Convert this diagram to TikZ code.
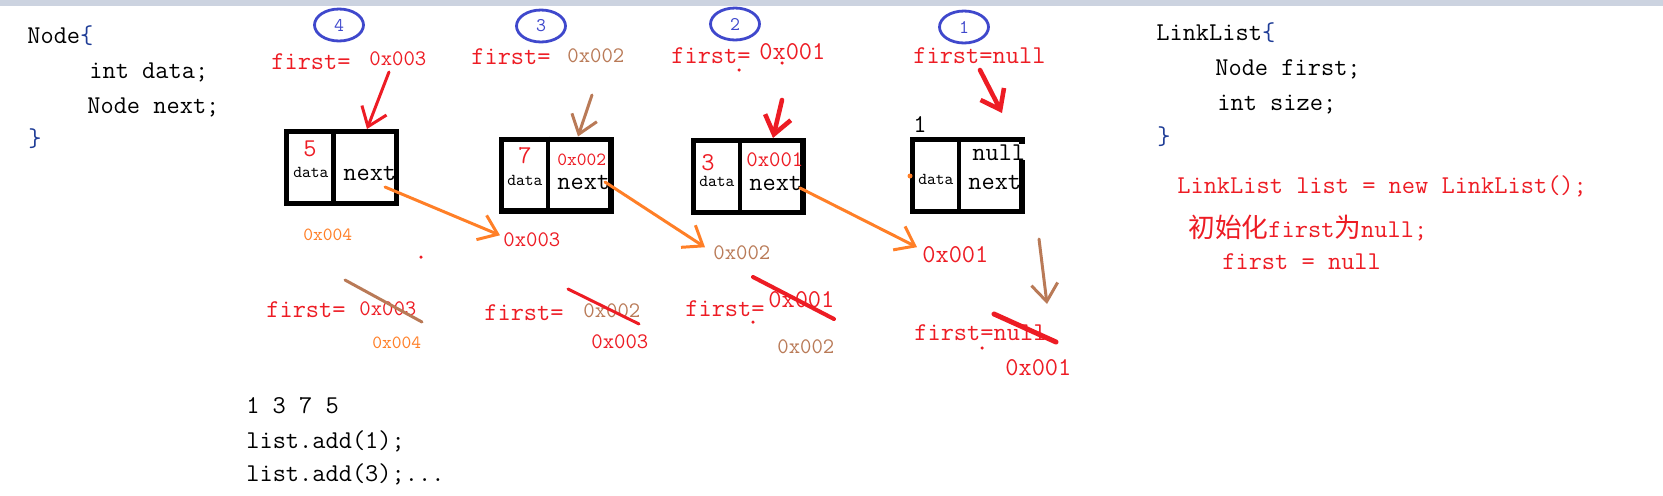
\documentclass[tikz,border=0pt]{standalone}
\usepackage{fontspec}
\usetikzlibrary{arrows.meta,shapes.geometric}
\newfontfamily\cjkfont{Noto Sans CJK SC}
% paint colours
\definecolor{pred}{RGB}{237,28,36}
\definecolor{porange}{RGB}{255,127,39}
\definecolor{pbrown}{RGB}{185,122,87}
\definecolor{pblue}{RGB}{63,72,204}
\definecolor{pbrace}{RGB}{30,60,150}
\definecolor{topbar}{RGB}{204,211,224}
% text sizes
\newcommand\nsz{\fontsize{14.6}{17}\selectfont\ttfamily}
\newcommand\msz{\fontsize{12.6}{15}\selectfont\ttfamily}
\newcommand\ssz{\fontsize{10.6}{13}\selectfont\ttfamily}
\newcommand\dsz{\fontsize{9.5}{11}\selectfont\ttfamily}
\newcommand\zh[1]{{\cjkfont\fontsize{15.2}{17}\selectfont #1}}
\tikzset{
  txt/.style={anchor=base west, inner sep=0pt, font=\nsz},
  listbox/.style={draw, line width=2.85pt, minimum width=2.2cm, minimum height=1.44cm, inner sep=0pt},
  divider/.style={line width=2.6pt},
  ordmark/.style={ellipse, draw=pblue, line width=1.6pt, minimum width=0.98cm, minimum height=0.64cm,
    inner sep=0pt, text=pblue, font=\fontsize{11}{11}\selectfont\ttfamily},
  paint/.style={line width=1.7pt, line cap=round, -{Straight Barb[length=10pt,width=15pt]}},
  strike/.style={line width=1.7pt, line cap=round}
}

\begin{document}
\begin{tikzpicture}[x=0.02cm, y=-0.02cm]
  \useasboundingbox (0,0) rectangle (1663,495);
  \fill[topbar] (0,0) rectangle (1663,6);

  % class Node
  \node[txt] (nd1) at (27,43) {Node\textcolor{pbrace}{\{}};
  \node[txt] (nd2) at (89,78) {int data;};
  \node[txt] (nd3) at (87,113) {Node next;};
  \node[txt] (nd4) at (28,146) {\textcolor{pbrace}{\}}};

  % class LinkList
  \node[txt] (ll1) at (1156,40) {LinkList\textcolor{pbrace}{\{}};
  \node[txt] (ll2) at (1215,75) {Node first;};
  \node[txt] (ll3) at (1217,110) {int size;};
  \node[txt] (ll4) at (1157,144) {\textcolor{pbrace}{\}}};
  \node[txt, pred] (ll5) at (1177,193) {LinkList list = new LinkList();};
  \node[txt, pred] (ll6) at (1188,237) {\zh{初始化}first\zh{为}null;};
  \node[txt, pred] (ll7) at (1222,269) {first = null};

  \node[txt] (seq) at (246,413) {1 3 7 5};
  \node[txt] (add1) at (246,448) {list.add(1);};
  \node[txt] (add3) at (246,481) {list.add(3);...};

  % order of the adds
  \node[ordmark] (o4) at (339,25) {4};
  \node[ordmark] (o3) at (541,26) {3};
  \node[ordmark] (o2) at (735,24) {2};
  \node[ordmark] (o1) at (964,27) {1};

  \node[txt, pred] (f4) at (271,69) {first=};
  \node[txt, pred, font=\msz] (v4) at (369,65) {0x003};
  \node[txt, pred] (f3) at (471,64) {first=};
  \node[txt, pbrown, font=\msz] (v3) at (567,62) {0x002};
  \node[txt, pred] (f2) at (671,63) {first=};
  \node[txt, pred] (v2) at (759,59) {0x001};
  \node[txt, pred] (f1) at (913,63) {first=null};

  % list nodes
  \foreach \name/\x/\y in {b5/341.5/167.5, b7/556/175, b3/748/176.5, b1/967/175.5}{
    \node[listbox] (\name) at (\x,\y) {};
    \draw[divider] ([xshift=0.99cm]\name.north west) -- ([xshift=0.99cm]\name.south west);
  }
  \node[txt, pred] (d5) at (303,156) {5};
  \node[txt, font=\dsz] (l5) at (293,177) {data};
  \node[txt] (n5) at (343,180) {next};
  \node[txt, pred] (d7) at (518,163) {7};
  \node[txt, font=\dsz] (l7) at (507,185) {data};
  \node[txt, pred, font=\ssz] (p7) at (557,165) {0x002};
  \node[txt] (n7) at (557,189) {next};
  \node[txt, pred] (d3) at (701,170) {3};
  \node[txt, font=\dsz] (l3) at (699,186) {data};
  \node[txt, pred, font=\msz] (p3) at (746,166) {0x001};
  \node[txt] (n3) at (749,190) {next};
  \node[txt] (d1) at (913,132) {1};
  \node[txt, font=\dsz] (l1) at (918,184) {data};
  \node[txt, fill=white] (p1) at (972,160) {null};
  \node[txt] (n1) at (968,189) {next};
  \fill[porange] (910,176) circle (0.05cm);

  % addresses
  \node[txt, porange, font=\ssz] (h4) at (303,240) {0x004};
  \node[txt, pred, font=\msz] (h3) at (503,246) {0x003};
  \node[txt, pbrown, font=\msz] (h2) at (713,259) {0x002};
  \node[txt, pred] (h1) at (922,262) {0x001};

  \node[txt, pred] (g4) at (266,317) {first=};
  \node[txt, pred, font=\msz] (w4) at (359,315) {0x003};
  \node[txt, porange, font=\ssz] (u4) at (372,348) {0x004};
  \node[txt, pred] (g3) at (484,320) {first=};
  \node[txt, pbrown, font=\msz] (w3) at (583,317) {0x002};
  \node[txt, pred, font=\msz] (u3) at (591,348) {0x003};
  \node[txt, pred] (g2) at (685,316) {first=};
  \node[txt, pred] (w2) at (768,307) {0x001};
  \node[txt, pbrown, font=\msz] (u2) at (777,353) {0x002};
  \node[txt, pred] (g1) at (914,340) {first=null};
  \node[txt, pred] (u1) at (1005,375) {0x001};

  % arrows
  \coordinate (s4) at (389,72);
  \coordinate (s3) at (592,95);
  \coordinate (s2) at (782,100);
  \coordinate (s1) at (980,70);
  \coordinate (e1) at (1002,113);
  \coordinate (q5) at (385,187);
  \coordinate (q7) at (605,182);
  \coordinate (q3) at (800,188);
  \coordinate (k1) at (1039,239);
  \coordinate (k2) at (1047,304);
  \draw[paint, pred] (s4) -- ([xshift=0.51cm]b5.north);
  \draw[paint, pbrown] (s3) -- ([xshift=0.44cm]b7.north);
  \draw[paint, pred, line width=2.6pt] (s2) -- ([xshift=0.5cm]b3.north);
  \draw[paint, pred, line width=2.6pt] (s1) -- (e1);
  \draw[paint, porange] (q5) -- ([xshift=-0.06cm,yshift=0.08cm]h3.west);
  \draw[paint, porange] (q7) -- ([xshift=-0.16cm,yshift=0.1cm]h2.west);
  \draw[paint, porange] (q3) -- ([xshift=-0.1cm,yshift=0.14cm]h1.west);
  \draw[paint, pbrown] (k1) -- (k2);

  % crossed out values
  \draw[strike, pbrown] (345,280) -- (422,322);
  \draw[strike, pred] (568,289) -- (639,324);
  \draw[strike, pred, line width=2.3pt] (753,277) -- (834,319);
  \draw[strike, pred, line width=2.85pt] (994,314) -- (1056,342);
  \foreach \p in {(421,257),(739,70),(782,63),(753,322),(982,348)}
    \fill[pred] \p circle (0.035cm);
\end{tikzpicture}
\end{document}
